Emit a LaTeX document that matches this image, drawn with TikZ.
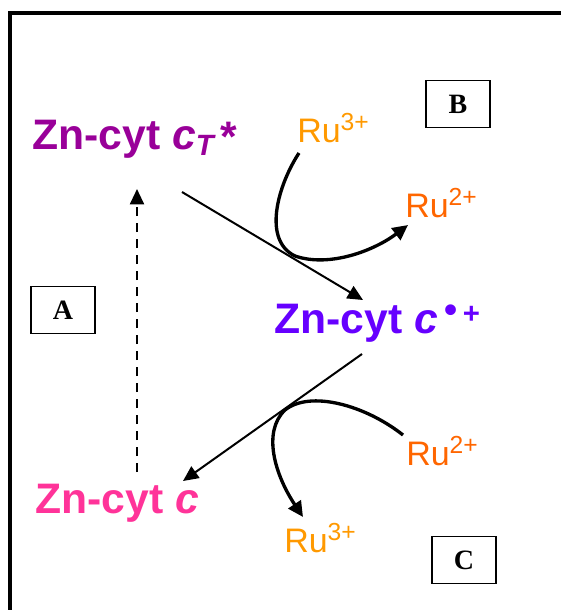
\documentclass[tikz,border=0pt]{standalone}
\usepackage{fontspec}
\setmainfont{Liberation Sans}
\newfontfamily\boxfont{Liberation Serif}
\usetikzlibrary{arrows.meta}
\definecolor{cpurple}{HTML}{990099}
\definecolor{cviolet}{HTML}{6600FF}
\definecolor{cpink}{HTML}{FF3399}
\definecolor{corange}{HTML}{FF9900}
\definecolor{cdorange}{HTML}{FF6600}
\tikzset{
  species/.style={anchor=base west, inner sep=0pt, font=\fontsize{32}{32}\selectfont\bfseries},
  ruion/.style={anchor=base west, inner sep=0pt, font=\fontsize{25.5}{25.5}\selectfont},
  labelbox/.style={draw, line width=1.2pt, minimum width=48pt, minimum height=35pt, inner sep=0pt, font=\boxfont\fontsize{21}{21}\selectfont\bfseries},
  elarrow/.style={line width=1.5pt, -{Triangle[length=11.5pt,width=10.5pt]}},
  ruarrow/.style={line width=2.5pt, -{Triangle[length=11.5pt,width=11pt]}},
}
\newcommand{\supx}[1]{\raisebox{9pt}{\fontsize{18.5}{18.5}\selectfont #1}}
\begin{document}
\begin{tikzpicture}[x=0.75pt,y=-0.75pt]
\useasboundingbox (0,0) rectangle (561,610);
% frame
\draw[line width=3pt] (9.5,610) -- (9.5,13) -- (561,13);

% species
\node[species, text=cpurple] (ct) at (32,149) {Zn-cyt \textit{c}\raisebox{-5pt}{\fontsize{22}{22}\selectfont\itshape T}\,\raisebox{-2pt}{*}};
\node[species, text=cviolet] (cox) at (274,333) {Zn-cyt \textit{c}\,\raisebox{8pt}{\fontsize{28}{28}\selectfont\textbullet}\raisebox{7pt}{\fontsize{22}{22}\selectfont\,+}};
\node[species, text=cpink] (cg) at (35,513) {Zn-cyt \textit{c}};

% Ru ions
\node[ruion, text=corange] (ru3a) at (297,142) {Ru\supx{3+}};
\node[ruion, text=cdorange] (ru2a) at (405,217) {Ru\supx{2+}};
\node[ruion, text=cdorange] (ru2b) at (406,465) {Ru\supx{2+}};
\node[ruion, text=corange] (ru3b) at (284,552) {Ru\supx{3+}};

% boxes
\node[labelbox] (A) at (63,310) {A};
\node[labelbox] (B) at (458,104) {B};
\node[labelbox] (C) at (464,560) {C};

% connector endpoints
\coordinate (ctS) at (182,192);
\coordinate (coxE) at (363,300);
\coordinate (coxS) at (362,354);
\coordinate (cgE) at (183,481);
\coordinate (cgS) at (137,472);
\coordinate (ctE) at (137,189);
\coordinate (ru3aS) at (299,153);
\coordinate (ru2aE) at (408,225);
\coordinate (ru2bS) at (403,435);
\coordinate (ru3bE) at (303,517);

% electron transfer arrows
\draw[elarrow] (ctS) -- (coxE);
\draw[elarrow] (coxS) -- (cgE);
\draw[elarrow, dashed, dash pattern=on 7pt off 5pt] (cgS) -- (ctE);

% Ru arrows
\draw[ruarrow] (ru3aS) .. controls (278,185) and (262,240) .. (295,256)
  .. controls (330,268) and (375,250) .. (ru2aE);
\draw[ruarrow] (ru2bS) .. controls (365,405) and (310,390) .. (285,410)
  .. controls (262,432) and (275,475) .. (ru3bE);
\end{tikzpicture}
\end{document}
